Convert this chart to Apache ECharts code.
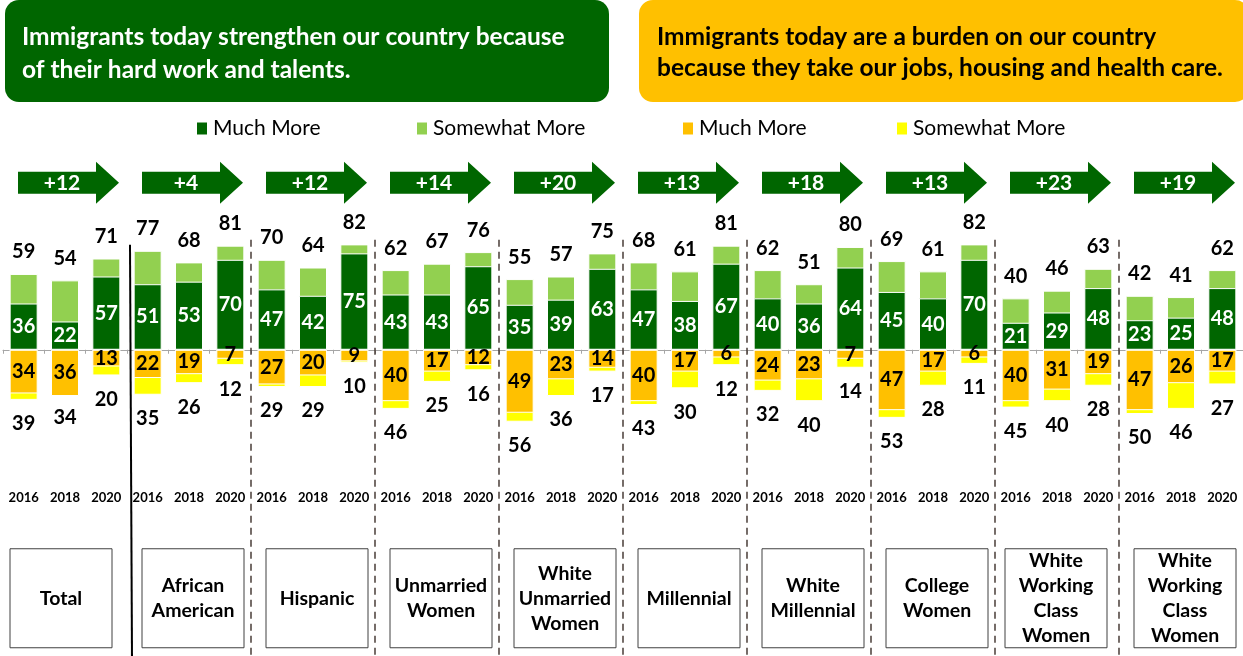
<!DOCTYPE html>
<html><head><meta charset="utf-8">
<script src="https://cdn.jsdelivr.net/npm/echarts@6/dist/echarts.min.js"></script>
<style>html,body{margin:0;padding:0;background:#fff}#c{width:1243px;height:656px}</style>
</head><body><div id="c"></div>
<script>
const groups = ['Total','African\nAmerican','Hispanic','Unmarried\nWomen','White\nUnmarried\nWomen','Millennial','White\nMillennial','College\nWomen','White\nWorking\nClass\nWomen','White\nWorking\nClass\nWomen'];
const years = ['2016','2018','2020'];
const arrowLabels = ['+12','+4','+12','+14','+20','+13','+18','+13','+23','+19'];
const strengthenMuch  = [36,22,57, 51,53,70, 47,42,75, 43,43,65, 35,39,63, 47,38,67, 40,36,64, 45,40,70, 21,29,48, 23,25,48];
const strengthenTotal = [59,54,71, 77,68,81, 70,64,82, 62,67,76, 55,57,75, 68,61,81, 62,51,80, 69,61,82, 40,46,63, 42,41,62];
const burdenMuch  = [34,36,13, 22,19,7, 27,20,9, 40,17,12, 49,23,14, 40,17,6, 24,23,7, 47,17,6, 40,31,19, 47,26,17];
const burdenTotal = [39,34,20, 35,26,12, 29,29,10, 46,25,16, 56,36,17, 43,30,12, 32,40,14, 53,28,11, 45,40,28, 50,46,27];
const headerLeft = 'Immigrants today strengthen our country because\nof their hard work and talents.';
const headerRight = 'Immigrants today are a burden on our country\nbecause they take our jobs, housing and health care.';
const legendNames = ['Much More', 'Somewhat More', 'Much More ', 'Somewhat More '];

const FONT = 'Lato, "Open Sans", sans-serif';
const C_DG = '#006600', C_LG = '#92D050', C_OR = '#FFC000', C_YE = '#FFFF00';

const cats = [];
groups.forEach((g, gi) => years.forEach(y => cats.push(gi + '-' + y)));

const numLabel = {fontFamily: FONT, fontWeight: 'bold', fontSize: 20};
const legendLefts = [190, 410, 676, 890];

const chart = echarts.init(document.getElementById('c'), null, {renderer: 'canvas'});
chart.setOption({
  animation: false,
  backgroundColor: '#fff',
  grid: {left: 3, width: 1241, top: 157, height: 327.7, containLabel: false},
  legend: legendNames.map((n, i) => ({
    left: legendLefts[i], top: 113, icon: 'rect', itemWidth: 12, itemHeight: 14,
    textStyle: {fontFamily: FONT, fontSize: 21, color: '#000'},
    data: [n], selectedMode: false
  })),
  xAxis: {
    type: 'category', data: cats,
    axisLine: {onZero: true, lineStyle: {color: '#a6a6a6', width: 1}},
    axisTick: {show: true, interval: 0, length: 4, lineStyle: {color: '#a6a6a6'}},
    axisLabel: {interval: 0, margin: 7, color: '#000', fontFamily: FONT, fontWeight: 'bold', fontSize: 13,
      formatter: v => v.split('-')[1]}
  },
  yAxis: {type: 'value', min: -105, max: 150, show: false, splitLine: {show: false}},
  graphic: [
    {type: 'rect', shape: {x: 5, y: 0, width: 604, height: 102, r: 14}, style: {fill: C_DG}},
    {type: 'text', x: 22, y: 53.5, style: {text: headerLeft, fill: '#fff', font: 'bold 24.5px ' + FONT, lineHeight: 33, verticalAlign: 'middle'}},
    {type: 'rect', shape: {x: 639, y: 0, width: 610, height: 102, r: 14}, style: {fill: C_OR}},
    {type: 'text', x: 657, y: 52.5, style: {text: headerRight, fill: '#000', font: 'bold 24.5px ' + FONT, lineHeight: 31, verticalAlign: 'middle'}}
  ],
  series: [
    {name: 'Somewhat More', type: 'bar', barWidth: 28, barGap: '-100%', data: strengthenTotal,
      itemStyle: {color: C_LG, borderColor: '#fff', borderWidth: 1},
      label: Object.assign({show: true, position: 'top', distance: 12, color: '#000'}, numLabel)},
    {name: 'Much More', type: 'bar', barWidth: 28, barGap: '-100%', data: strengthenMuch,
      itemStyle: {color: C_DG, borderColor: '#fff', borderWidth: 1},
      label: Object.assign({show: true, position: 'inside', color: '#fff'}, numLabel)},
    {name: 'Somewhat More ', type: 'bar', barWidth: 28, barGap: '-100%', data: burdenTotal.map(v => -v),
      itemStyle: {color: C_YE, borderColor: '#fff', borderWidth: 1},
      label: Object.assign({show: true, position: 'bottom', distance: 14, color: '#000', formatter: p => Math.abs(p.value)}, numLabel)},
    {name: 'Much More ', type: 'bar', barWidth: 28, barGap: '-100%', data: burdenMuch.map(v => -v),
      itemStyle: {color: C_OR, borderColor: '#fff', borderWidth: 1},
      label: Object.assign({show: true, position: 'inside', color: '#000', formatter: p => Math.abs(p.value)}, numLabel)},
    {type: 'custom', clip: false, silent: true, z: 5,
      data: groups.map((g, i) => [i * 3 + 1, 0]),
      renderItem: function (params, api) {
        const i = params.dataIndex;
        const mid = api.coord([i * 3 + 1, 0]);
        const band = api.size([1, 0])[0];
        const cx = mid[0] + 3, y0 = mid[1];
        const bxOff = (i === 0) ? -55 : (i === 8 ? -52 : -47);
        const ch = [];
        ch.push({type: 'polygon', shape: {points: [[cx - 50, y0 - 178], [cx + 28, y0 - 178], [cx + 28, y0 - 188], [cx + 51, y0 - 167], [cx + 28, y0 - 146], [cx + 28, y0 - 156], [cx - 50, y0 - 156]]},
          style: {fill: C_DG}});
        ch.push({type: 'text', x: cx - 6, y: y0 - 167, style: {text: arrowLabels[i], fill: '#fff', font: 'bold 21px ' + FONT, align: 'center', verticalAlign: 'middle'}});
        ch.push({type: 'rect', shape: {x: mid[0] + bxOff, y: y0 + 199, width: 102, height: 99}, style: {fill: '#fff', stroke: '#404040', lineWidth: 1}});
        ch.push({type: 'text', x: mid[0] + bxOff + 51, y: y0 + 248.5, style: {text: groups[i], fill: '#000', font: 'bold 19.5px ' + FONT, align: 'center', verticalAlign: 'middle', lineHeight: 25}});
        if (i > 0) {
          const bx = api.coord([i * 3, 0])[0] - band / 2;
          if (i === 1) {
            ch.push({type: 'line', shape: {x1: bx + 3, y1: y0 - 105, x2: bx + 5, y2: y0 + 310}, style: {stroke: '#000', lineWidth: 2}});
          } else {
            ch.push({type: 'line', shape: {x1: bx, y1: y0 - 110, x2: bx, y2: y0 + 310}, style: {stroke: '#3c302a', lineWidth: 1.4, lineDash: [7, 5]}});
          }
        }
        return {type: 'group', children: ch};
      }
    }
  ]
});
</script></body></html>
